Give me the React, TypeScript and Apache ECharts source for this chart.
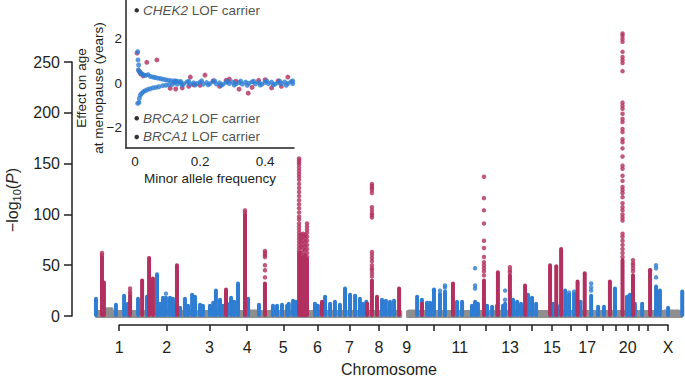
import React, { useEffect, useRef } from "react";
import * as echarts from "echarts";

// ---------- Data ----------
const chromosomes = ["1","2","3","4","5","6","7","8","9","10","11","12","13","14","15","16","17","18","19","20","21","22","X"];
const chromLengthsMb = [249,243,198,191,181,171,159,146,141,136,135,134,115,107,103,90,81,78,59,63,48,51,155];
const labeledChromosomes = ["1","2","3","4","5","6","7","8","9","11","13","15","17","20","X"];
const mainYTicks = [0, 50, 100, 150, 200, 250];
const insetXTicks = [0, 0.2, 0.4];
const insetYTicks = [-2, 0, 2];

// gray (non-significant) band: [startMb, endMb, -log10P]
const grayBand: [number, number, number][] = [
  [0, 1585, 6], [52, 95, 8.5], [600, 640, 7], [780, 860, 6.5], [1605, 3034, 6], [1612, 1660, 6.5], [2330, 2365, 6], [2930, 3020, 6.5],
];

// dense columns of significant variants: [positionMb, top -log10P]
const blueTowers: [number, number][] = [
  [5,17],[108,11],[150,20],[170,12],[222,17],[268,19],[320,41],[335,12],[351,18],[366,18],[387,18],[402,17],[411,10],[439,8],[464,17],[480,10],[501,21],[516,19],[542,11],[557,10],[593,10],[610,13],[624,25],[645,16],[660,10],[682,12],[702,18],[718,14],[738,32],[790,17],[846,11],[918,10],[939,10],[965,11],[991,10],[1000,12],[1022,15],[1037,14],[1135,12],[1150,10],[1187,19],[1213,12],[1238,14],[1264,11],[1290,27],[1316,21],[1342,20],[1367,17],[1383,12],[1400,14],[1481,16],[1501,15],[1522,14],[1543,15],[1662,19],[1687,16],[1713,13],[1729,13],[1749,26],[1780,22],[1806,24],[1868,14],[1894,14],[1945,10],[1961,14],[1976,12],[2023,10],[2049,9],[2074,10],[2105,10],[2116,12],[2157,16],[2178,14],[2198,12],[2234,21],[2255,18],[2276,12],[2363,12],[2384,10],[2426,25],[2446,21],[2472,22],[2505,14],[2560,20],[2596,9],[2626,9],[2683,27],[2745,19],[2760,21],[2786,12],[2823,12],[2895,29],[2915,25],[2957,8],[3030,24],
];
const redTowers: [number, number][] = [
  [36,58],[46,33],[181,20],[243,35],[279,57],[299,37],[423,50],[676,26],[774,100],[877,32],[1053,62],[1063,50],[1073,58],[1084,60],[1094,56],[1171,14],[1404,12],[1429,35],[1455,19],[1569,27],[1687,12],[1847,32],[2007,35],[2079,43],[2141,40],[2219,30],[2348,50],[2380,49],[2405,66],[2490,34],[2527,42],[2657,34],[2722,55],[2776,40],[2864,45],
];
// isolated variants above the columns: [positionMb, values]
const blueDotColumns: [number, number[]][] = [
  [366,[22]],[1749,[25]],[1780,[25]],[1806,[30,28]],[1961,[47,27,30]],[2116,[25,16]],[2472,[24]],[2560,[32,28,25]],[2895,[50,47,38]],[2446,[23]],
];
const redDotColumns: [number, number[]][] = [
  [36,[62,60]],[181,[27,24,22]],[774,[104,102]],[877,[64,62,60,58,50,45,38]],
  [1053,[155,153,151,149,146,143,140,137,134,130,126,122,118,114,110,106,102,98,95,91,88,85,82,79,76,73,70,67,64]],
  [1063,[80,76,72,68,62,58,55]],
  [1073,[81,78,74,70,66,62]],
  [1084,[80,77,73,69,65]],
  [1094,[91,88,85,82,78,74,70,66,62,58]],
  [1429,[130,128,126,124,121,107,104,101,99,97,63,60,57,54,50,47,45,42,39]],
  [2007,[137,116,104,91,74,67,58,53,50,47,44,40]],
  [2141,[48,45,43]],
  [2722,[278,276,273,270,260,255,252,249,241,210,207,204,199,194,191,184,181,174,171,165,157,148,145,138,133,127,124,121,117,111,107,104,100,97,94,81,78,74,70,66,62,58]],
  [2776,[55,52,50,47,44]],[2864,[45]],
];

// inset: [minor allele frequency, effect (years)]
const insetBlue: [number, number][] = [
  [0.008,1.42],[0.009,1.05],[0.011,0.82],[0.01,0.6],[0.014,0.5],[0.018,0.45],[0.022,0.4],[0.027,0.36],[0.033,0.35],[0.04,0.38],[0.047,0.3],[0.055,0.27],[0.062,0.25],[0.07,0.22],[0.078,0.2],[0.086,0.17],[0.094,0.15],[0.102,0.12],[0.11,0.11],[0.12,0.1],[0.13,0.08],[0.14,0.07],
  [0.008,-0.92],[0.012,-0.88],[0.013,-0.7],[0.016,-0.55],[0.02,-0.47],[0.025,-0.4],[0.031,-0.35],[0.038,-0.3],[0.046,-0.26],[0.055,-0.22],[0.064,-0.2],[0.073,-0.17],[0.085,-0.12],[0.095,-0.1],[0.105,-0.08],[0.115,-0.06],
  [0.12,0.03],[0.13,-0.05],[0.14,0.02],[0.15,-0.03],[0.16,0.05],[0.17,-0.06],[0.18,0.01],[0.19,-0.02],[0.2,0.04],[0.21,-0.05],[0.22,0.02],[0.23,-0.03],[0.24,0.06],[0.25,-0.04],[0.26,0.01],[0.27,-0.06],[0.28,0.03],[0.29,-0.02],[0.3,0.05],[0.31,-0.04],[0.32,0.02],[0.33,-0.05],[0.34,0.04],[0.35,-0.01],[0.36,0.05],[0.37,-0.04],[0.38,0.02],[0.39,-0.05],[0.4,0.03],[0.41,-0.02],[0.42,0.04],[0.43,-0.05],[0.44,0.01],[0.45,-0.03],[0.46,0.05],[0.47,-0.02],[0.48,0.06],[0.485,-0.03],
  [0.125,0.09],[0.145,-0.1],[0.165,0.08],[0.185,-0.09],[0.205,0.1],[0.225,-0.08],[0.245,0.1],[0.265,-0.1],[0.285,0.08],[0.305,-0.09],[0.325,0.09],[0.345,-0.1],[0.365,0.08],[0.385,-0.09],[0.405,0.1],[0.425,-0.08],[0.445,0.09],[0.465,-0.1],[0.485,0.1],
];
const insetRed: [number, number][] = [
  [0.006,1.36],[0.036,0.94],[0.067,1.05],[0.012,0.55],[0.017,0.42],[0.025,0.33],[0.215,0.36],[0.17,0.27],[0.29,0.18],[0.47,0.27],[0.108,-0.24],[0.125,-0.27],[0.145,-0.22],[0.165,-0.15],[0.348,-0.46],[0.32,-0.28],[0.4,0.15],[0.24,0.1],[0.38,0.12],[0.45,-0.15],[0.42,-0.22],[0.26,-0.15],[0.2,-0.1],[0.31,0.08],[0.44,0.1],[0.36,-0.2],[0.28,0.12],[0.18,-0.08],
];
const lofCarriers: [number, number, string][] = [
  [0.005, 3.3, "CHEK2"], [0.005, -1.6, "BRCA2"], [0.005, -2.45, "BRCA1"],
];

// ---------- Styling ----------
const RED = "#b1305f";
const BLUE = "#2e7dd2";
const GRAY = "#8f8f8f";
const INK = "#231f20";
const FONT = "'Liberation Sans', Arial, Helvetica, sans-serif";

export default function App() {
  const ref = useRef<HTMLDivElement>(null);

  useEffect(() => {
    const chart = echarts.init(ref.current!, null, { renderer: "svg" });

    const chromMids: number[] = [];
    let acc = 0;
    for (const len of chromLengthsMb) { chromMids.push(acc + len / 2); acc += len; }
    const genomeLength = acc;

    const mainLeft = 95, mainRight = 2, W = 685;
    const mainWidth = W - mainLeft - mainRight;
    const toPx = (mb: number) => mainLeft + (mb / genomeLength) * mainWidth;
    const chrAxisLeft = toPx(chromMids[0]);
    const chrAxisRight = W - toPx(chromMids[chromMids.length - 1]);
    const labeledMids = chromMids.filter((_, i) => labeledChromosomes.includes(chromosomes[i]));

    const tower = (data: [number, number][], color: string, z: number) => ({
      type: "custom", xAxisIndex: 0, yAxisIndex: 0, z,
      data, encode: { x: 0, y: 1 }, clip: false,
      renderItem: (_p: any, api: any) => {
        const top = api.coord([api.value(0), api.value(1)]);
        const base = api.coord([api.value(0), 0]);
        const w = 4;
        return {
          type: "rect",
          shape: { x: top[0] - w / 2, y: top[1] - w / 2, width: w, height: base[1] - top[1] + w / 2 + 1, r: w / 2 },
          style: { fill: color },
        };
      },
    });

    const flatten = (cols: [number, number[]][]) => cols.flatMap(([x, vs]) => vs.map((v) => [x, v]));

    const option: any = {
      animation: false,
      backgroundColor: "#fff",
      textStyle: { fontFamily: FONT, color: INK },
      grid: [
        { left: mainLeft, right: mainRight, top: 62, bottom: 61, outerBoundsMode: "none", containLabel: false },
        { left: chrAxisLeft, right: chrAxisRight, top: 324, height: 1, outerBoundsMode: "none", containLabel: false },
        { left: 126, top: 0, width: 168, height: 148, outerBoundsMode: "none", containLabel: false },
      ],
      xAxis: [
        {
          gridIndex: 0, type: "value", min: 0, max: genomeLength,
          axisLine: { show: false, onZero: false }, axisTick: { show: false }, axisLabel: { show: false }, splitLine: { show: false },
          name: "Chromosome", nameLocation: "middle", nameGap: 45, nameMoveOverlap: false,
          nameTextStyle: { fontSize: 16, color: INK, fontFamily: FONT },
        },
        {
          gridIndex: 1, type: "value", min: chromMids[0], max: chromMids[chromMids.length - 1],
          axisLine: { show: true, onZero: false, lineStyle: { color: INK, width: 1.5 } },
          axisTick: { show: true, inside: false, length: 6, customValues: chromMids, lineStyle: { color: INK, width: 1.5 } },
          axisLabel: {
            show: true, customValues: labeledMids, margin: 14, fontSize: 16, color: INK, fontFamily: FONT,
            showMinLabel: true, showMaxLabel: true, hideOverlap: false,
            formatter: (v: number) => {
              const i = chromMids.findIndex((m) => Math.abs(m - v) < 0.5);
              return i >= 0 ? chromosomes[i] : "";
            },
          },
          splitLine: { show: false },
        },
        {
          gridIndex: 2, type: "value", min: -0.028, max: 0.489,
          axisLine: { show: true, onZero: false, lineStyle: { color: INK, width: 1.5 } },
          axisTick: { show: false },
          axisLabel: {
            customValues: insetXTicks, margin: 6, fontSize: 13.5, color: INK, fontFamily: FONT,
            showMinLabel: true, showMaxLabel: true,
            formatter: (v: number) => String(Math.round(v * 10) / 10),
          },
          splitLine: { show: false },
          name: "Minor allele frequency", nameLocation: "middle", nameGap: 23, nameMoveOverlap: false,
          nameTextStyle: { fontSize: 13.5, color: INK, fontFamily: FONT },
        },
      ],
      yAxis: [
        {
          gridIndex: 0, type: "value", min: 0, max: 250, interval: 50, offset: 23,
          axisLine: { show: true, onZero: false, lineStyle: { color: INK, width: 1.5 } },
          axisTick: { show: true, inside: false, length: 8, lineStyle: { color: INK, width: 1.5 } },
          axisLabel: { margin: 12, fontSize: 16, color: INK, fontFamily: FONT, customValues: mainYTicks },
          splitLine: { show: false },
          name: "{a|−log}{s|10}{a|(}{i|P}{a|)}", nameLocation: "middle", nameGap: 44, nameRotate: 90,
          nameTextStyle: {
            fontFamily: FONT, color: INK, padding: [0, 22, 0, 0],
            rich: {
              a: { fontSize: 16, lineHeight: 20, fontFamily: FONT, color: INK },
              s: { fontSize: 11, lineHeight: 12, verticalAlign: "bottom", fontFamily: FONT, color: INK },
              i: { fontSize: 16, lineHeight: 20, fontStyle: "italic", fontFamily: FONT, color: INK },
            },
          },
        },
        { gridIndex: 1, type: "value", show: false, min: 0, max: 1 },
        {
          gridIndex: 2, type: "value", min: -2.95, max: 3.77,
          axisLine: { show: true, onZero: false, lineStyle: { color: INK, width: 1.5 } },
          axisTick: { show: false },
          axisLabel: {
            customValues: insetYTicks, margin: 4, fontSize: 13.5, color: INK, fontFamily: FONT,
            formatter: (v: number) => (v < 0 ? "−" + Math.abs(v) : String(v)),
          },
          splitLine: { show: false },
          name: "Effect on age\nat menopause (years)", nameLocation: "middle", nameGap: 19, nameRotate: 90,
          nameMoveOverlap: false,
          nameTextStyle: { fontSize: 13.5, color: INK, fontFamily: FONT, lineHeight: 17, padding: [0, 28, 0, 0] },
        },
      ],
      series: [
        {
          type: "custom", xAxisIndex: 0, yAxisIndex: 0, z: 1, data: grayBand, encode: { x: [0, 1], y: 2 },
          renderItem: (_p: any, api: any) => {
            const a = api.coord([api.value(0), api.value(2)]);
            const b = api.coord([api.value(1), 0]);
            return { type: "rect", shape: { x: a[0], y: a[1], width: b[0] - a[0], height: b[1] - a[1] + 2, r: 1.5 }, style: { fill: GRAY } };
          },
        },
        tower(blueTowers, BLUE, 2),
        {
          type: "scatter", xAxisIndex: 0, yAxisIndex: 0, z: 3, clip: false, symbolSize: 4.5,
          itemStyle: { color: BLUE }, data: flatten(blueDotColumns),
        },
        tower(redTowers, RED, 4),
        {
          type: "scatter", xAxisIndex: 0, yAxisIndex: 0, z: 5, clip: false, symbolSize: 4.5,
          itemStyle: { color: RED }, data: flatten(redDotColumns),
        },
        {
          type: "scatter", xAxisIndex: 2, yAxisIndex: 2, z: 3, symbolSize: 5,
          itemStyle: { color: RED }, data: insetRed,
        },
        {
          type: "scatter", xAxisIndex: 2, yAxisIndex: 2, z: 4, symbolSize: 5,
          itemStyle: { color: BLUE }, data: insetBlue,
        },
        {
          type: "scatter", xAxisIndex: 2, yAxisIndex: 2, z: 5, symbolSize: 4.5,
          itemStyle: { color: "#000" }, data: lofCarriers,
          label: {
            show: true, position: "right", distance: 4, fontSize: 13.5, color: INK, fontFamily: FONT,
            formatter: (p: any) => `{i|${p.data[2]}} LOF carrier`,
            rich: { i: { fontStyle: "italic", fontSize: 13.5, color: INK, fontFamily: FONT } },
          },
        },
      ],
    };

    chart.setOption(option);
    return () => chart.dispose();
  }, []);

  return (
    <div
      ref={ref}
      style={{ position: "fixed", left: 0, top: 0, width: 685, height: 377, background: "#fff" }}
    />
  );
}
